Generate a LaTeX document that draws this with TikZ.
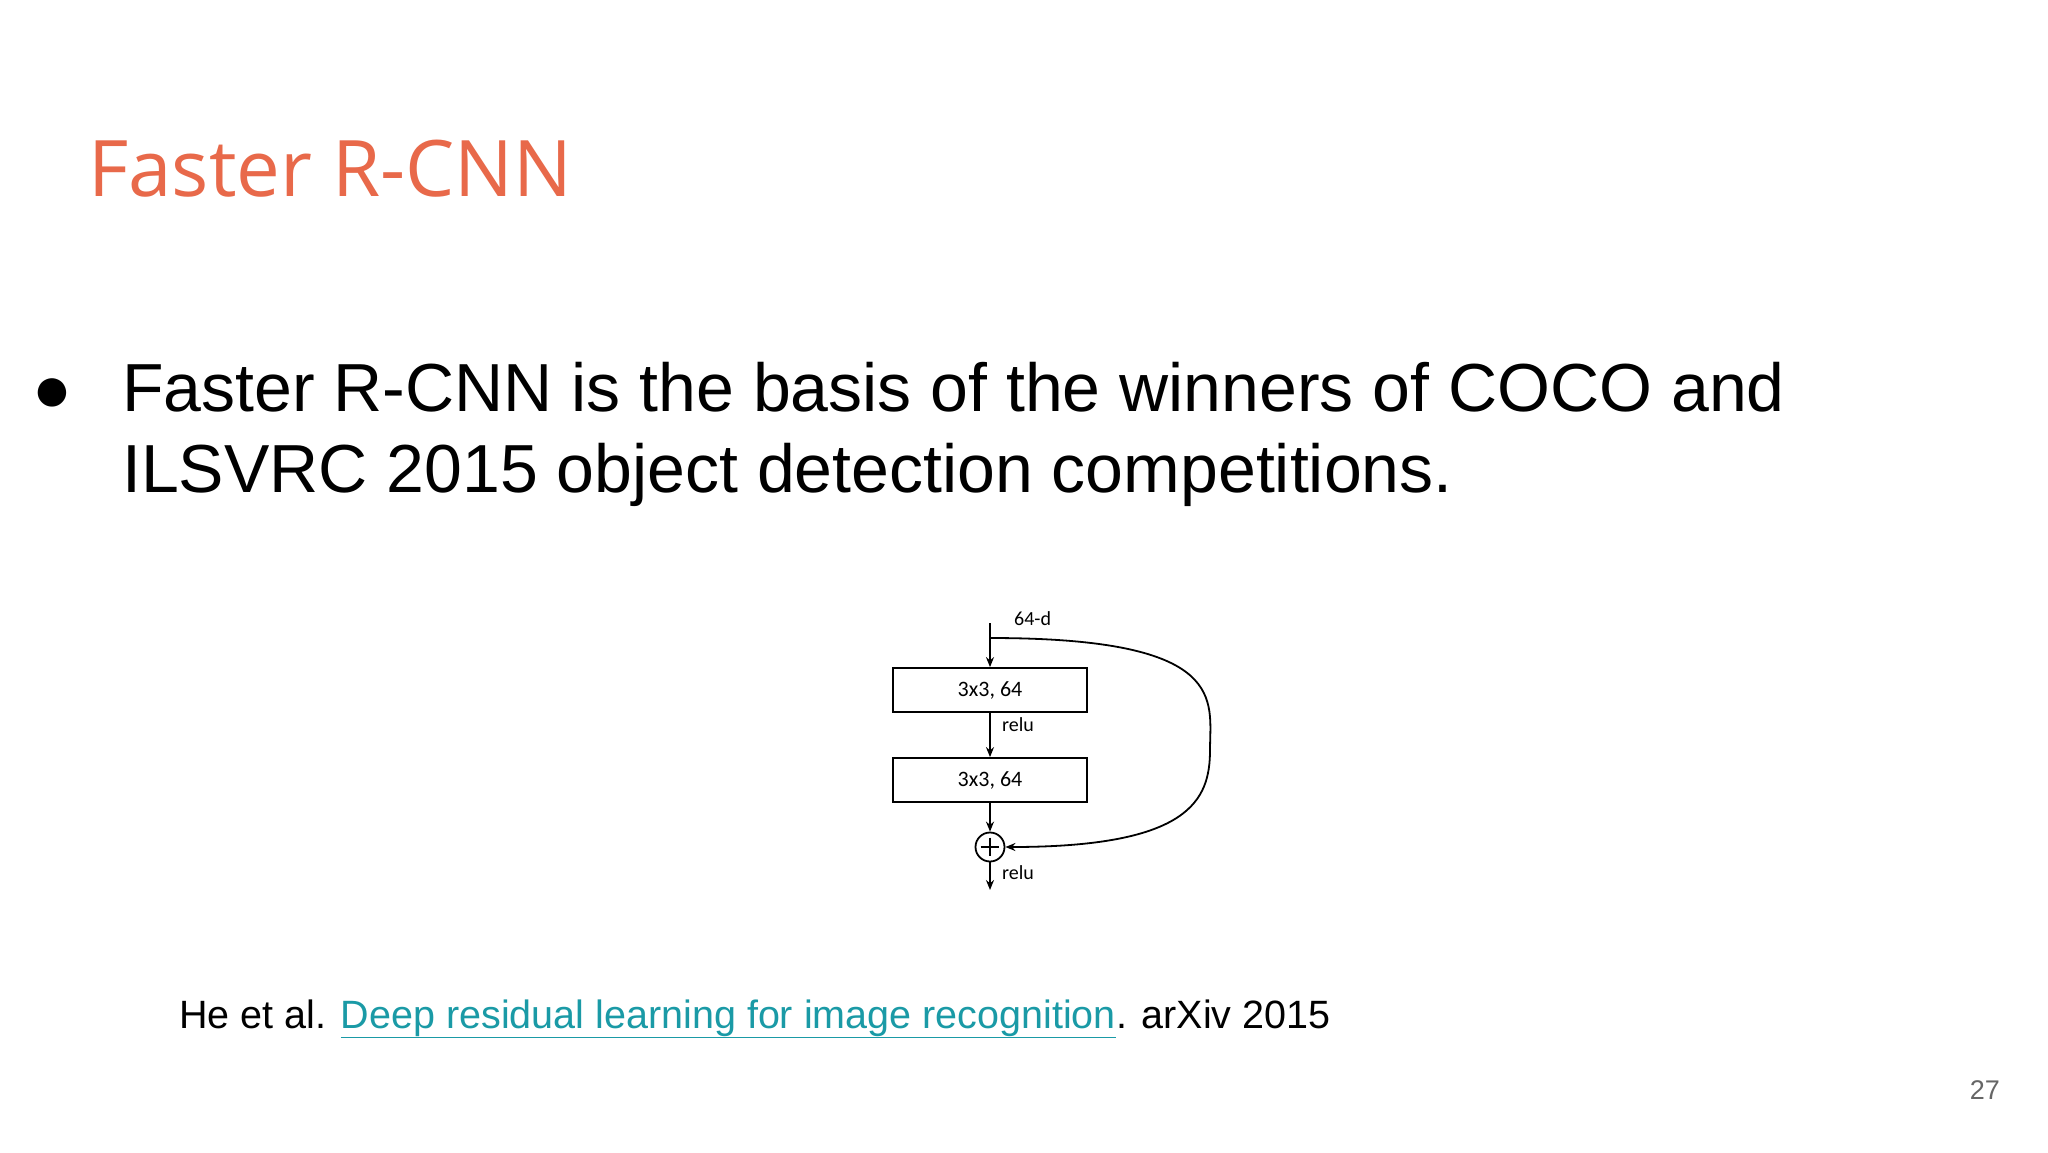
\documentclass[tikz,border=0pt]{standalone}
\usepackage{fontspec}
\setmainfont{Liberation Sans}
\newfontfamily\titlefont{Open Sans}
\newfontfamily\diagfont{Carlito}
\usetikzlibrary{arrows.meta}
\definecolor{titleorange}{HTML}{E8694A}
\definecolor{linkteal}{HTML}{1A9AA6}
\begin{document}
\begin{tikzpicture}[x=1pt,y=-1pt,
  layer/.style={draw,line width=1.8pt,minimum width=194pt,minimum height=44pt,inner sep=0pt,font=\diagfont\fontsize{22}{24}\selectfont},
  lbl/.style={font=\diagfont\fontsize{20}{22}\selectfont,anchor=west,inner sep=0pt},
  arr/.style={line width=1.8pt,-{Stealth[length=10pt,width=8pt]}}]
\useasboundingbox[fill=white] (0,0) rectangle (2048,1152);
\node[anchor=base west,inner sep=0pt,text=titleorange,font=\titlefont\fontsize{78}{90}\selectfont] (title) at (88,196) {Faster R-CNN};
\node[anchor=base west,inner sep=0pt,font=\fontsize{66}{80}\selectfont] (bul) at (32,411) {●};
\node[anchor=base west,inner sep=0pt,font=\fontsize{68}{81}\selectfont,align=left] (b1) at (122,411) {Faster R-CNN is the basis of the winners of COCO and};
\node[anchor=base west,inner sep=0pt,font=\fontsize{68}{81}\selectfont] (b2) at (122,492) {ILSVRC 2015 object detection competitions.};
\coordinate (top) at (990,623);
\coordinate (br) at (990,638);
\node[layer] (l1) at (990,690) {3x3, 64};
\node[layer] (l2) at (990,780) {3x3, 64};
\node[draw,line width=1.8pt,circle,minimum size=29pt,inner sep=0pt] (sum) at (990,847) {};
\draw[line width=1.8pt] ([yshift=-6pt]sum.north) -- ([yshift=6pt]sum.south) ([xshift=6pt]sum.west) -- ([xshift=-6pt]sum.east);
\coordinate (out) at (990,890);
\draw[arr] (top) -- (l1.north);
\draw[arr] (l1.south) -- (l2.north);
\draw[arr] (l2.south) -- (sum.north);
\draw[arr] (sum.south) -- (out);
\draw[arr] (br) .. controls (1230,638) and (1210,700) .. (1210,750) .. controls (1210,800) and (1190,847) .. (sum.east);
\node[lbl] (d64) at (1014,619) {64-d};
\node[lbl] (r1) at (1002,725) {relu};
\node[lbl] (r2) at (1002,873) {relu};
\node[anchor=base west,inner sep=0pt,font=\fontsize{39.5}{44}\selectfont] (cite) at (179,1028) {He et al. \textcolor{linkteal}{\underline{Deep residual learning for image recognition}}. arXiv 2015};
\node[anchor=base east,inner sep=0pt,text=black!60,font=\fontsize{27}{30}\selectfont] (pg) at (2000,1099) {27};
\end{tikzpicture}
\end{document}
